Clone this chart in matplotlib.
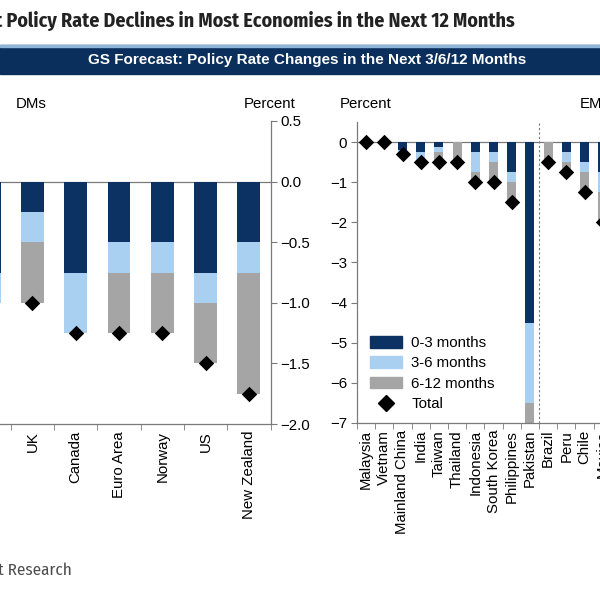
import matplotlib.pyplot as plt
import numpy as np
from matplotlib.patches import Rectangle
from matplotlib.lines import Line2D
from matplotlib.ticker import FixedLocator
from matplotlib import font_manager as fm

# DMs (leftmost bar is cut off in the reference)
dm_names = ["", "UK", "Canada", "Euro Area", "Norway", "US", "New Zealand"]
dm_0_3 = [0.75, 0.25, 0.75, 0.5, 0.5, 0.75, 0.5]
dm_3_6 = [0.25, 0.25, 0.5, 0.25, 0.25, 0.25, 0.25]
dm_6_12 = [0.0, 0.5, 0.0, 0.5, 0.5, 0.5, 1.0]

# EMs (right side is cut off)
em_names = ["Malaysia", "Vietnam", "Mainland China", "India", "Taiwan", "Thailand",
            "Indonesia", "South Korea", "Philippines", "Pakistan",
            "Brazil", "Peru", "Chile", "Mexico"]
em_0_3 = [0, 0, 0.2, 0.25, 0.125, 0, 0.25, 0.25, 0.75, 4.5, 0, 0.25, 0.5, 0.75]
em_3_6 = [0, 0, 0.05, 0.25, 0.125, 0, 0.5, 0.25, 0.25, 2.0, 0, 0.25, 0.25, 0.5]
em_6_12 = [0, 0, 0.05, 0, 0.25, 0.5, 0.25, 0.5, 0.5, 1.0, 0.5, 0.25, 0.5, 0.75]

title = 'Policy Rate Declines in Most Economies in the Next 12 Months'
source = 'Source: Goldman Sachs Global Investment Research'

c_dark = '#0b3262'
c_light = '#a9cff1'
c_grey = '#a5a5a5'
c_axis = '#7a7a7a'

plt.rcParams['font.family'] = ['Liberation Sans', 'DejaVu Sans']
FS = 10.8

# pick a condensed face for the title / footer if one is installed
names = set(f.name for f in fm.fontManager.ttflist)
narrow = 'DejaVu Sans'
for cand in ['Fira Sans Condensed', 'Roboto Condensed', 'PT Sans Narrow',
             'Open Sans Condensed', 'Archivo Narrow', 'Encode Sans Condensed',
             'Barlow Semi Condensed', 'Liberation Sans Narrow', 'Arial Narrow']:
    if cand in names:
        narrow = cand
        break

fig = plt.figure(figsize=(6, 6), dpi=100)
renderer = fig.canvas.get_renderer()


def px(x0, y0, x1, y1):
    # pixel box (top-left origin) -> figure fraction rect
    return [x0 / 600, 1 - y1 / 600, (x1 - x0) / 600, (y1 - y0) / 600]


def fit_size(s, width_px, **kw):
    t = fig.text(0, 0, s, fontsize=10, **kw)
    w = t.get_window_extent(renderer).width
    t.remove()
    return 10 * width_px / w


def stacked(ax, a, b, c, width):
    a = -np.array(a, float)
    b = -np.array(b, float)
    c = -np.array(c, float)
    x = np.arange(len(a))
    ax.bar(x, a, width, color=c_dark, zorder=2)
    ax.bar(x, b, width, bottom=a, color=c_light, zorder=2)
    ax.bar(x, c, width, bottom=a + b, color=c_grey, zorder=2)
    ax.scatter(x, a + b + c, marker='D', s=62, color='black', zorder=4, linewidths=0)
    ax.axhline(0, color=c_axis, lw=0.9, zorder=1)


def style_x(ax, labels):
    n = len(labels)
    ax.set_xticks(np.arange(n))
    ax.set_xticklabels(labels, rotation=90, fontsize=FS)
    ax.tick_params(axis='x', which='major', length=0, pad=5)
    ax.xaxis.set_minor_locator(FixedLocator(np.arange(n + 1) - 0.5))
    ax.tick_params(axis='x', which='minor', length=4, color=c_axis, direction='out')
    for s in ax.spines.values():
        s.set_color(c_axis)
        s.set_linewidth(0.9)
    ax.spines['top'].set_visible(False)


# ---- left panel: DMs ----
ax1 = fig.add_axes(px(-32.5, 121, 270.5, 424))
stacked(ax1, dm_0_3, dm_3_6, dm_6_12, 0.53)
ax1.set_xlim(-0.5, 6.5)
ax1.set_ylim(-2.0, 0.5)
style_x(ax1, dm_names)
ax1.spines['left'].set_visible(False)
ax1.yaxis.tick_right()
ax1.set_yticks(np.arange(-2.0, 0.51, 0.5))
ax1.yaxis.set_major_formatter(plt.FuncFormatter(lambda v, p: ('%.1f' % v).replace('-', '\u2212')))
ax1.tick_params(axis='y', labelsize=FS, length=4, color=c_axis, pad=3)
fig.text(16 / 600, 1 - 104 / 600, 'DMs', fontsize=FS, va='center', ha='left')
fig.text(296 / 600, 1 - 104 / 600, 'Percent', fontsize=FS, va='center', ha='right')

# ---- right panel: EMs ----
ax2 = fig.add_axes(px(357, 122, 357 + 15 * 18.2, 423))
stacked(ax2, em_0_3, em_3_6, em_6_12, 0.5)
ax2.set_xlim(-0.5, 14.5)
ax2.set_ylim(-7, 0.5)
style_x(ax2, em_names)
ax2.spines['right'].set_visible(False)
ax2.set_yticks(np.arange(-7, 1, 1))
ax2.tick_params(axis='y', labelsize=FS, length=4, color=c_axis, pad=3)
ax2.axvline(9.5, color=c_axis, lw=0.8, ls=(0, (2, 2)), zorder=1)
fig.text(340 / 600, 1 - 104 / 600, 'Percent', fontsize=FS, va='center', ha='left')
fig.text(580 / 600, 1 - 104 / 600, 'EMs', fontsize=FS, va='center', ha='left')

handles = [Rectangle((0, 0), 1, 1, color=c_dark),
           Rectangle((0, 0), 1, 1, color=c_light),
           Rectangle((0, 0), 1, 1, color=c_grey),
           Line2D([], [], marker='D', ls='none', color='black', markersize=7.8)]
ax2.legend(handles, ['0-3 months', '3-6 months', '6-12 months', 'Total'],
           loc='lower left', bbox_to_anchor=(13 / 273, 12 / 301), frameon=False,
           fontsize=FS, handlelength=2.1, handleheight=0.8, handletextpad=0.65,
           labelspacing=0.42, borderpad=0, borderaxespad=0)

# ---- title, banner, footer ----
tkw = dict(fontweight='bold', family=[narrow, 'DejaVu Sans'])
tfs = fit_size(title, 508, **tkw)
fig.text(515 / 600, 1 - 21 / 600, 'We Expect ' + title,
         fontsize=tfs, color='#222222', ha='right', va='center', **tkw)
fig.patches.append(Rectangle((0, 1 - 74 / 600), 1, 29 / 600, transform=fig.transFigure,
                             color='#0b2f5c', zorder=0))
fig.patches.append(Rectangle((0, 1 - 46.5 / 600), 1, 1.5 / 600, transform=fig.transFigure,
                             color='#8fb4da', zorder=1))
fig.text(307 / 600, 1 - 60 / 600, 'GS Forecast: Policy Rate Changes in the Next 3/6/12 Months',
         fontsize=11, fontweight='bold', color='white', ha='center', va='center')
skw = dict(family=[narrow, 'DejaVu Sans'])
sfs = fit_size('Research', 64, **skw)
fig.text(72 / 600, 1 - 570 / 600, source,
         fontsize=sfs, color='#4d4d4d', ha='right', va='center', **skw)

fig.savefig('out.png', dpi=100)
